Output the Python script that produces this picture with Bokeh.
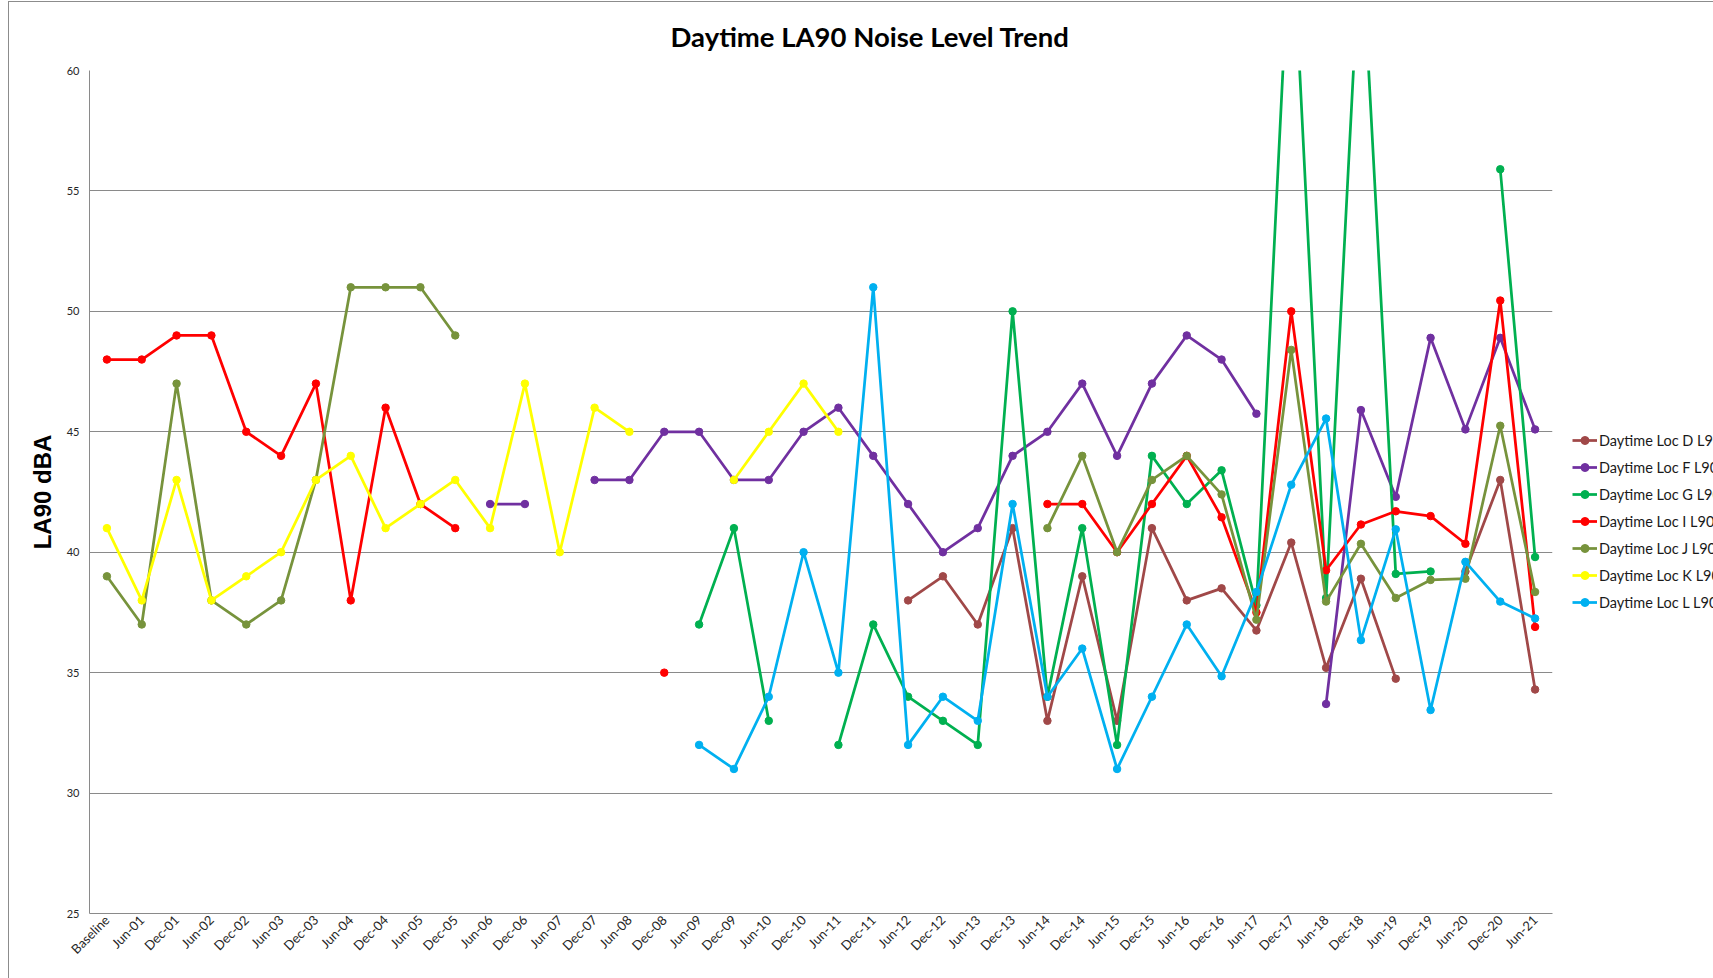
import math
from bokeh.plotting import figure
from bokeh.models import FactorRange, Range1d, Legend, LegendItem, Title, FixedTicker
from bokeh.embed import file_html
from bokeh.resources import INLINE

N = float("nan")

categories = ["Baseline", "Jun-01", "Dec-01", "Jun-02", "Dec-02", "Jun-03", "Dec-03",
              "Jun-04", "Dec-04", "Jun-05", "Dec-05", "Jun-06", "Dec-06", "Jun-07",
              "Dec-07", "Jun-08", "Dec-08", "Jun-09", "Dec-09", "Jun-10", "Dec-10",
              "Jun-11", "Dec-11", "Jun-12", "Dec-12", "Jun-13", "Dec-13", "Jun-14",
              "Dec-14", "Jun-15", "Dec-15", "Jun-16", "Dec-16", "Jun-17", "Dec-17",
              "Jun-18", "Dec-18", "Jun-19", "Dec-19", "Jun-20", "Dec-20", "Jun-21"]

loc_d = [N] * 23 + [38, 39, 37, 41, 33, 39, 33, 41, 38, 38.5, 36.75, 40.4, 35.2,
                    38.9, 34.75, N, 39.2, 43, 34.3]
loc_f = [N] * 11 + [42, 42, N, 43, 43, 45, 45, 43, 43, 45, 46, 44, 42, 40, 41, 44,
                    45, 47, 44, 47, 49, 48, 45.75, N, 33.7, 45.9, 42.3, 48.9, 45.1,
                    48.9, 45.1]
loc_g = [N] * 17 + [37, 41, 33, N, 32, 37, 34, 33, 32, 50, 34, 41, 32, 44, 42, 43.4,
                    37.8, 67, 38.1, 66, 39.1, 39.2, N, 55.9, 39.8]
loc_i = [48, 48, 49, 49, 45, 44, 47, 38, 46, 42, 41] + [N] * 5 + [35] + [N] * 10 + \
        [42, 42, 40, 42, 44, 41.45, 37.5, 50, 39.25, 41.15, 41.7, 41.5, 40.35, 50.45, 36.9]
loc_j = [39, 37, 47, 38, 37, 38, 43, 51, 51, 51, 49] + [N] * 16 + \
        [41, 44, 40, 43, 44, 42.4, 37.2, 48.4, 37.95, 40.35, 38.1, 38.85, 38.9, 45.25, 38.35]
loc_k = [41, 38, 43, 38, 39, 40, 43, 44, 41, 42, 43, 41, 47, 40, 46, 45, N, N,
         43, 45, 47, 45] + [N] * 20
loc_l = [N] * 17 + [32, 31, 34, 40, 35, 51, 32, 34, 33, 42, 34, 36, 31, 34, 37, 34.85,
                    38.35, 42.8, 45.55, 36.35, 40.95, 33.45, 39.6, 37.95, 37.25]

series_names = ["Daytime Loc D L90", "Daytime Loc F L90", "Daytime Loc G L90",
                "Daytime Loc I L90", "Daytime Loc J L90", "Daytime Loc K L90",
                "Daytime Loc L L90"]
series_values = [loc_d, loc_f, loc_g, loc_i, loc_j, loc_k, loc_l]
series_colors = ["#A04848", "#7030A0", "#00B050", "#FF0000", "#77933C", "#FFFF00", "#00B0F0"]

y_ticks = [25, 30, 35, 40, 45, 50, 55, 60]

p = figure(frame_width=1463, frame_height=843, output_backend="svg", toolbar_location=None,
           x_range=FactorRange(*categories, range_padding=0),
           y_range=Range1d(25, 60),
           min_border_left=80, min_border_right=161, min_border_top=68, min_border_bottom=65)
p.styles = {"margin-left": "8px", "margin-top": "1px",
            "border-left": "1px solid #8c8c8c", "border-top": "1px solid #8c8c8c"}
p.outline_line_color = None
p.background_fill_color = "white"
p.border_fill_color = "white"

p.xgrid.grid_line_color = None
p.ygrid.grid_line_color = "#8a8a8a"
p.ygrid.grid_line_width = 1

p.yaxis.ticker = FixedTicker(ticks=y_ticks)
p.yaxis.axis_line_color = "#8a8a8a"
p.yaxis.major_tick_line_color = None
p.yaxis.minor_tick_line_color = None
p.yaxis.major_tick_out = 0
p.yaxis.major_label_standoff = 10
p.yaxis.major_label_text_font = "Lato"
p.yaxis.major_label_text_font_size = "11px"
p.yaxis.major_label_text_color = "#262626"
p.yaxis.axis_label = "LA90 dBA"
p.yaxis.axis_label_text_font = "Liberation Sans"
p.yaxis.axis_label_text_font_style = "bold"
p.yaxis.axis_label_text_font_size = "24px"
p.yaxis.axis_label_text_color = "black"
p.yaxis.axis_label_standoff = 8

p.xaxis.axis_line_color = "#8a8a8a"
p.xaxis.major_tick_line_color = None
p.xaxis.minor_tick_line_color = None
p.xaxis.major_tick_out = 0
p.xaxis.major_label_standoff = 4
p.xaxis.major_label_orientation = math.pi / 4
p.xaxis.major_label_text_font = "Lato"
p.xaxis.major_label_text_font_size = "13px"
p.xaxis.major_label_text_color = "#262626"

items = []
for name, vals, col in zip(series_names, series_values, series_colors):
    r1 = p.line(categories, vals, line_color=col, line_width=2.75)
    r2 = p.scatter(categories, vals, size=7.5, fill_color=col, line_color=col)
    items.append(LegendItem(label=name, renderers=[r1, r2]))

legend = Legend(items=items, location=(20, 301), orientation="vertical",
                padding=0, margin=0, spacing=7, label_height=20, glyph_height=20,
                glyph_width=25, label_standoff=2,
                label_text_font="Lato", label_text_font_size="14.5px",
                label_text_color="#1a1a1a",
                border_line_color=None, background_fill_alpha=0)
p.add_layout(legend, "right")

p.title = Title(text="Daytime LA90 Noise Level Trend", align="left", offset=581,
                vertical_align="middle", standoff=33,
                text_font="Lato", text_font_style="bold", text_font_size="27.5px",
                text_color="black")

open("out.html", "w").write(file_html(p, INLINE))
